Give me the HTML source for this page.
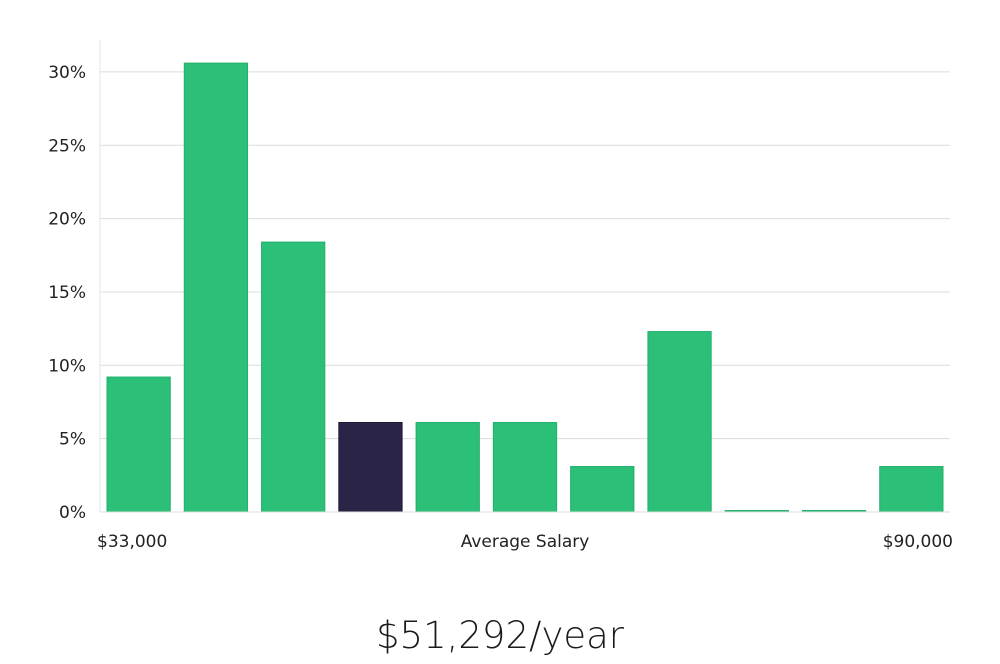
<!DOCTYPE html>
<html><head><meta charset="utf-8"><style>
body{margin:0;background:#fff;width:1000px;height:660px;overflow:hidden;font-family:"DejaVu Sans","Liberation Sans",sans-serif;}
</style></head><body>
<svg id="chart" width="1000" height="660" xmlns="http://www.w3.org/2000/svg"></svg>
<script>
const categories=["b1","b2","b3","b4","b5","b6","b7","b8","b9","b10","b11"];
const values=[9.2,30.6,18.4,6.1,6.1,6.1,3.1,12.3,0.1,0.1,3.1];
const highlight=[false,false,false,true,false,false,false,false,false,false,false];
const yTicks=[0,5,10,15,20,25,30];
const svg=document.getElementById('chart');
const NS="http://www.w3.org/2000/svg";
const L=100,R=950,B=512,PX=14.67;
const y=v=>B-v*PX;
const slot=(R-L)/categories.length;
const x=i=>L+i*slot;
function mk(t,a,txt){const e=document.createElementNS(NS,t);for(const k in a)e.setAttribute(k,a[k]);if(txt!==undefined)e.textContent=txt;svg.appendChild(e);return e;}
let ax=mk('line',{x1:L,x2:L,y1:40,y2:B,stroke:'#e6e6e6'});


yTicks.forEach(t=>{
  if(t>0){const g=mk('line',{x1:L,x2:R,y1:y(t),y2:y(t),stroke:'#dcdcdc'});
  
  }
  const lb=mk('text',{x:L-14,y:y(t)+6,'text-anchor':'end','font-size':17,fill:'#222'},t+'%');
  
  
});
values.forEach((v,i)=>{
  const r=mk('rect',{x:x(i)+7,y:y(v),width:slot-14,height:Math.max(1,v*PX),fill:highlight[i]?'#2a2547':'#2bbf78',stroke:highlight[i]?'#1d1838':'#22b06c','stroke-width':1});
  
  
});
let b=mk('line',{x1:L,x2:R,y1:B,y2:B,stroke:'#dcdcdc'});


const xl=[["$33,000",97,'start'],["Average Salary",525,'middle'],["$90,000",953,'end']];
xl.forEach(a=>{const t=mk('text',{x:a[1],y:547,'text-anchor':a[2],'font-size':17,fill:'#222'},a[0]);

});
const tt=mk('text',{x:500,y:648,'text-anchor':'middle','font-size':37,fill:'#1a1a1a','font-weight':'300'},'$51,292/year');


</script>
</body></html>
